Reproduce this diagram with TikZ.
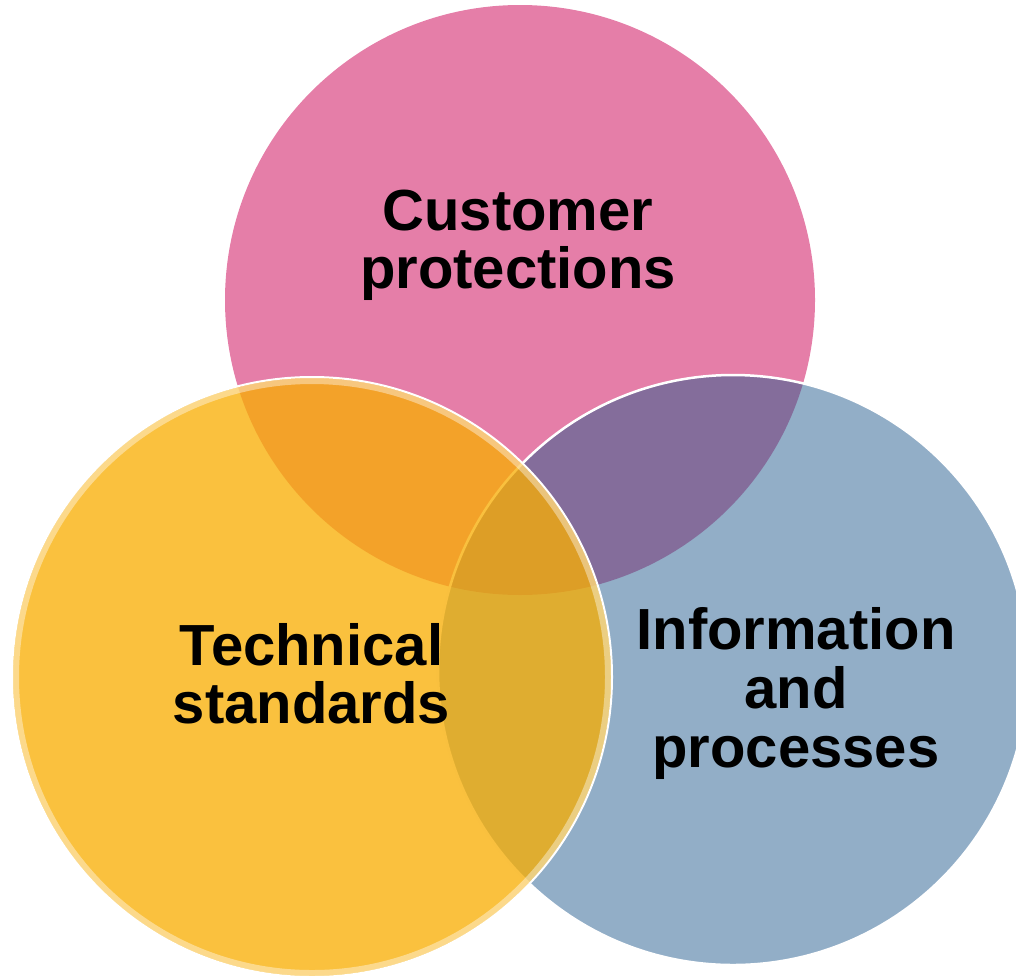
\documentclass[tikz,border=0pt]{standalone}
\usepackage{fontspec}
\setmainfont{Liberation Sans}
\definecolor{pinkc}{RGB}{229,126,168}
\definecolor{bluec}{RGB}{37,93,143}
\definecolor{goldc}{RGB}{248,174,4}

\begin{document}
\begin{tikzpicture}[x=1pt,y=-1pt]
        \tikzstyle{every node} = [align=center, inner sep=0pt, font=\bfseries\fontsize{58}{58}\selectfont]
        \useasboundingbox (0,0) rectangle (1016,975);

        % the three circles
        \fill[pinkc] (520,300) circle[radius=295pt];
        \fill[bluec, fill opacity=0.5] (733,670) circle[radius=295pt];
        \draw[white, line width=2.5pt] (733,670) circle[radius=295pt];
        \fill[goldc, fill opacity=0.77] (312,677) circle[radius=300pt];
        \draw[white, opacity=0.4, line width=6pt] (312,677) circle[radius=296pt];
        \draw[white, line width=2pt] (312,677) circle[radius=300pt];

        \node (cust) at (518,245) {Customer\\protections};
        \node (tech) at (311.5,674) {Technical\\standards};
        \node[font=\bfseries\fontsize{58}{59}\selectfont] (info) at (796,693) {Information\\and\\processes};
\end{tikzpicture}
\end{document}
